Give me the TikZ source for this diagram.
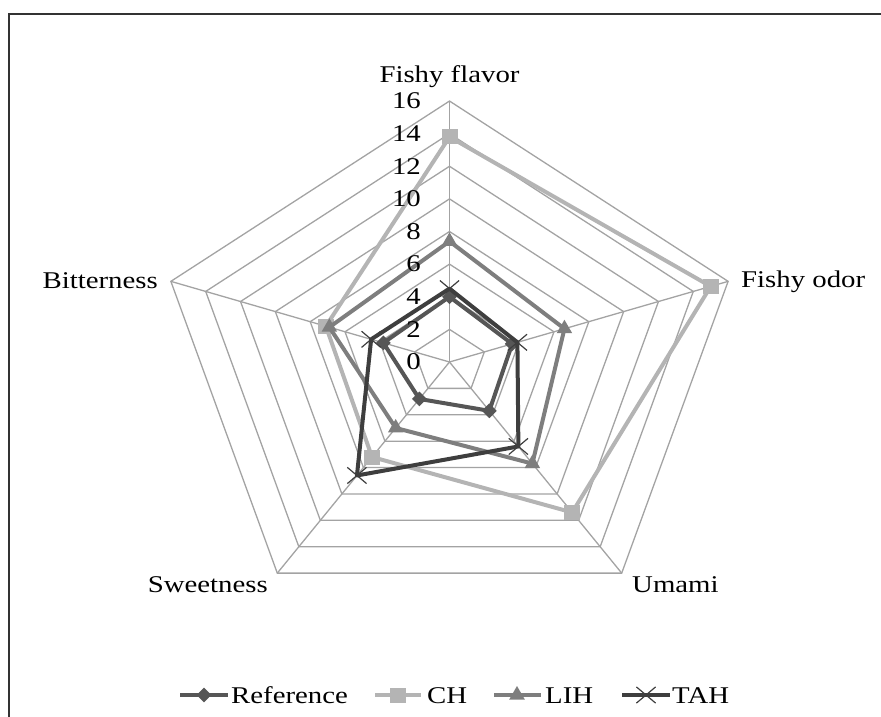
\documentclass[tikz,border=0pt]{standalone}
\usepackage{fontspec}
\setmainfont[FakeStretch=1.2]{Liberation Serif}
\usepackage{xcolor}
\usetikzlibrary{shapes.geometric,shapes.misc}
\definecolor{gridgray}{HTML}{A3A3A3}
\definecolor{refgray}{HTML}{565656}
\definecolor{chgray}{HTML}{B4B4B4}
\definecolor{lihgray}{HTML}{7E7E7E}
\definecolor{tahgray}{HTML}{3E3E3E}

\begin{document}
\begin{tikzpicture}[
      x=1pt, y=1pt,
      type-grid/.style={draw=gridgray, line width=1.3pt},
      type-label/.style={font=\fontsize{24}{28}\selectfont, inner sep=0pt},
      type-tick/.style={font=\fontsize{24}{28}\selectfont, inner sep=0pt, anchor=east},
      series-ref/.style={draw=refgray, line width=4pt, line join=round},
      series-ch/.style={draw=chgray, line width=4pt, line join=round},
      series-lih/.style={draw=lihgray, line width=4pt, line join=round},
      series-tah/.style={draw=tahgray, line width=4pt, line join=round},
      mark-ref/.style={diamond, fill=refgray, minimum width=15pt, minimum height=15pt, inner sep=0pt},
      mark-ch/.style={rectangle, fill=chgray, minimum width=16pt, minimum height=15pt, inner sep=0pt},
      mark-lih/.style={regular polygon, regular polygon sides=3, fill=lihgray, minimum size=18pt, inner sep=0pt},
      mark-tah/.style={cross out, draw=tahgray, line width=1.2pt, minimum width=18pt, minimum height=15pt, inner sep=0pt}
    ]
      \useasboundingbox (0,0) rectangle (881,-717);
      \draw[line width=2pt, draw=black!80] (9,-717) -- (9,-14.5) -- (881,-14.5);

      \begin{scope}[shift={(449.5,-362)}, x=18.31pt, y=16.31pt]
        % grid
        \foreach \r in {2,4,...,16}
          \draw[type-grid] (90:\r) -- (18:\r) -- (-54:\r) -- (-126:\r) -- (162:\r) -- cycle;
        \foreach \a in {90,18,-54,-126,162}
          \draw[type-grid] (0,0) -- (\a:16);

        % Reference
        \foreach \a/\v [count=\i] in {90/4.0,18/3.6,-54/3.7,-126/2.8,162/3.8}
          \coordinate (ref-\i) at (\a:\v);
        \draw[series-ref] (ref-1) -- (ref-2) -- (ref-3) -- (ref-4) -- (ref-5) -- cycle;
        \foreach \i in {1,...,5}
          \node[mark-ref] (ref-mark-\i) at (ref-\i) {};

        % CH
        \foreach \a/\v [count=\i] in {90/13.8,18/15.0,-54/11.4,-126/7.2,162/7.1}
          \coordinate (ch-\i) at (\a:\v);
        \draw[series-ch] (ch-1) -- (ch-2) -- (ch-3) -- (ch-4) -- (ch-5) -- cycle;
        \foreach \i in {1,...,5}
          \node[mark-ch] (ch-mark-\i) at (ch-\i) {};

        % LIH
        \foreach \a/\v [count=\i] in {90/7.4,18/6.6,-54/7.7,-126/5.0,162/6.9}
          \coordinate (lih-\i) at (\a:\v);
        \draw[series-lih] (lih-1) -- (lih-2) -- (lih-3) -- (lih-4) -- (lih-5) -- cycle;
        \foreach \i in {1,...,5}
          \node[mark-lih] (lih-mark-\i) at (lih-\i) {};

        % TAH
        \foreach \a/\v [count=\i] in {90/4.5,18/3.9,-54/6.4,-126/8.6,162/4.5}
          \coordinate (tah-\i) at (\a:\v);
        \draw[series-tah] (tah-1) -- (tah-2) -- (tah-3) -- (tah-4) -- (tah-5) -- cycle;
        \foreach \i in {1,...,5}
          \node[mark-tah] (tah-mark-\i) at (tah-\i) {};
      \end{scope}

      % scale
      \foreach \t in {0,2,...,16}
        \node[type-tick] (tick-\t) at (421,{-362+16.31*\t}) {\t};

      % axis names
      \node[type-label, anchor=base] (lbl-flavor) at (449.5,-83) {Fishy flavor};
      \node[type-label, anchor=base west] (lbl-odor) at (741,-287) {Fishy odor};
      \node[type-label, anchor=base west] (lbl-umami) at (632,-592) {Umami};
      \node[type-label, anchor=base east] (lbl-sweet) at (268,-592) {Sweetness};
      \node[type-label, anchor=base east] (lbl-bitter) at (158,-288) {Bitterness};

      % legend
      \coordinate (leg-ref-a) at (180,-695);
      \coordinate (leg-ref-b) at (228,-695);
      \draw[series-ref] (leg-ref-a) -- (leg-ref-b);
      \node[mark-ref] (leg-ref-mark) at (204,-695) {};
      \node[type-label, anchor=base west] (leg-ref) at (231,-703) {Reference};

      \coordinate (leg-ch-a) at (375,-695);
      \coordinate (leg-ch-b) at (421,-695);
      \draw[series-ch] (leg-ch-a) -- (leg-ch-b);
      \node[mark-ch] (leg-ch-mark) at (398,-695) {};
      \node[type-label, anchor=base west] (leg-ch) at (427,-703) {CH};

      \coordinate (leg-lih-a) at (494,-695);
      \coordinate (leg-lih-b) at (541,-695);
      \draw[series-lih] (leg-lih-a) -- (leg-lih-b);
      \node[mark-lih] (leg-lih-mark) at (517,-695) {};
      \node[type-label, anchor=base west] (leg-lih) at (545,-703) {LIH};

      \coordinate (leg-tah-a) at (622,-695);
      \coordinate (leg-tah-b) at (670,-695);
      \draw[series-tah] (leg-tah-a) -- (leg-tah-b);
      \node[mark-tah] (leg-tah-mark) at (646,-695) {};
      \node[type-label, anchor=base west] (leg-tah) at (672,-703) {TAH};
\end{tikzpicture}
\end{document}
